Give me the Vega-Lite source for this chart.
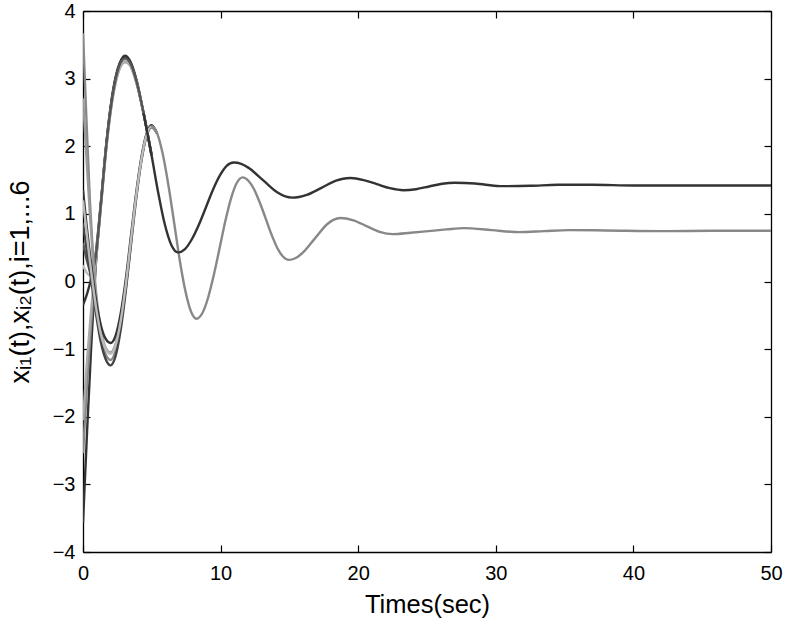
{
  "$schema": "https://vega.github.io/schema/vega-lite/v6.json",
  "width": 688,
  "height": 541,
  "autosize": {"type": "none"},
  "padding": {"left": 83, "top": 11, "right": 15, "bottom": 68},
  "background": "white",
  "config": {
    "view": {"stroke": null},
    "font": "Liberation Sans",
    "axis": {
      "domainColor": "#000", "domainWidth": 1.3,
      "tickColor": "#000", "tickWidth": 1.2, "tickSize": -7,
      "grid": false,
      "labelFont": "Liberation Sans", "labelFontSize": 20, "labelColor": "#000",
      "titleFont": "Liberation Sans", "titleFontSize": 24, "titleFontWeight": "normal", "titleColor": "#000",
      "labelFlush": false
    }
  },
  "data": {"values": [
    {"s":"A1","t":0,"v":-3.57},{"s":"A1","t":0.3,"v":-2.2},{"s":"A1","t":0.6,"v":-0.95},{"s":"A1","t":0.9,"v":0.15},{"s":"A1","t":1.3,"v":1.15},{"s":"A1","t":1.7,"v":2.05},{"s":"A1","t":2.1,"v":2.72},{"s":"A1","t":2.5,"v":3.13},{"s":"A1","t":2.8,"v":3.29},{"s":"A1","t":3.05,"v":3.34},{"s":"A1","t":3.4,"v":3.27},{"s":"A1","t":3.9,"v":2.97},{"s":"A1","t":4.4,"v":2.49},{"s":"A1","t":4.98,"v":1.87},
    {"s":"A2","t":0,"v":-2.54},{"s":"A2","t":0.3,"v":-1.5},{"s":"A2","t":0.6,"v":-0.6},{"s":"A2","t":0.9,"v":0.2},{"s":"A2","t":1.3,"v":1.12},{"s":"A2","t":1.7,"v":2.0},{"s":"A2","t":2.1,"v":2.66},{"s":"A2","t":2.5,"v":3.07},{"s":"A2","t":2.8,"v":3.22},{"s":"A2","t":3.05,"v":3.26},{"s":"A2","t":3.4,"v":3.21},{"s":"A2","t":3.9,"v":2.93},{"s":"A2","t":4.4,"v":2.49},{"s":"A2","t":4.98,"v":1.87},
    {"s":"A3","t":0,"v":-2.05},{"s":"A3","t":0.3,"v":-1.15},{"s":"A3","t":0.6,"v":-0.4},{"s":"A3","t":0.9,"v":0.25},{"s":"A3","t":1.3,"v":1.1},{"s":"A3","t":1.7,"v":1.97},{"s":"A3","t":2.1,"v":2.63},{"s":"A3","t":2.5,"v":3.04},{"s":"A3","t":2.8,"v":3.2},{"s":"A3","t":3.05,"v":3.24},{"s":"A3","t":3.4,"v":3.2},{"s":"A3","t":3.9,"v":2.92},{"s":"A3","t":4.4,"v":2.49},{"s":"A3","t":4.98,"v":1.87},
    {"s":"A4","t":0,"v":-0.35},{"s":"A4","t":0.3,"v":-0.18},{"s":"A4","t":0.6,"v":0.05},{"s":"A4","t":0.9,"v":0.38},{"s":"A4","t":1.3,"v":1.17},{"s":"A4","t":1.7,"v":2.04},{"s":"A4","t":2.1,"v":2.7},{"s":"A4","t":2.5,"v":3.11},{"s":"A4","t":2.8,"v":3.27},{"s":"A4","t":3.05,"v":3.31},{"s":"A4","t":3.4,"v":3.25},{"s":"A4","t":3.9,"v":2.95},{"s":"A4","t":4.4,"v":2.49},{"s":"A4","t":4.98,"v":1.87},
    {"s":"A5","t":0,"v":0.24},{"s":"A5","t":0.3,"v":0.12},{"s":"A5","t":0.6,"v":0.08},{"s":"A5","t":0.9,"v":0.32},{"s":"A5","t":1.3,"v":1.13},{"s":"A5","t":1.7,"v":2.0},{"s":"A5","t":2.1,"v":2.66},{"s":"A5","t":2.5,"v":3.08},{"s":"A5","t":2.8,"v":3.24},{"s":"A5","t":3.05,"v":3.28},{"s":"A5","t":3.4,"v":3.22},{"s":"A5","t":3.9,"v":2.94},{"s":"A5","t":4.4,"v":2.49},{"s":"A5","t":4.98,"v":1.87},
    {"s":"A6","t":0,"v":0.57},{"s":"A6","t":0.3,"v":0.3},{"s":"A6","t":0.6,"v":0.12},{"s":"A6","t":0.9,"v":0.33},{"s":"A6","t":1.3,"v":1.14},{"s":"A6","t":1.7,"v":2.02},{"s":"A6","t":2.1,"v":2.68},{"s":"A6","t":2.5,"v":3.1},{"s":"A6","t":2.8,"v":3.26},{"s":"A6","t":3.05,"v":3.3},{"s":"A6","t":3.4,"v":3.24},{"s":"A6","t":3.9,"v":2.95},{"s":"A6","t":4.4,"v":2.49},{"s":"A6","t":4.98,"v":1.87},
    {"s":"B1","t":0,"v":3.67},{"s":"B1","t":0.25,"v":2.4},{"s":"B1","t":0.5,"v":1.2},{"s":"B1","t":0.75,"v":0.3},{"s":"B1","t":1.0,"v":-0.35},{"s":"B1","t":1.3,"v":-0.8},{"s":"B1","t":1.65,"v":-1.08},{"s":"B1","t":2.0,"v":-1.16},{"s":"B1","t":2.37,"v":-1.02},{"s":"B1","t":2.75,"v":-0.64},{"s":"B1","t":3.12,"v":-0.08},{"s":"B1","t":3.49,"v":0.58},{"s":"B1","t":3.86,"v":1.24},{"s":"B1","t":4.24,"v":1.79},{"s":"B1","t":4.61,"v":2.15},{"s":"B1","t":4.98,"v":2.29},{"s":"B1","t":5.39,"v":2.19},
    {"s":"B2","t":0,"v":2.71},{"s":"B2","t":0.25,"v":1.85},{"s":"B2","t":0.5,"v":1.0},{"s":"B2","t":0.75,"v":0.3},{"s":"B2","t":1.0,"v":-0.25},{"s":"B2","t":1.3,"v":-0.7},{"s":"B2","t":1.65,"v":-0.98},{"s":"B2","t":2.0,"v":-1.05},{"s":"B2","t":2.37,"v":-0.92},{"s":"B2","t":2.75,"v":-0.56},{"s":"B2","t":3.12,"v":-0.02},{"s":"B2","t":3.49,"v":0.625},{"s":"B2","t":3.86,"v":1.27},{"s":"B2","t":4.24,"v":1.81},{"s":"B2","t":4.61,"v":2.17},{"s":"B2","t":4.98,"v":2.3},{"s":"B2","t":5.39,"v":2.19},
    {"s":"B3","t":0,"v":1.35},{"s":"B3","t":0.25,"v":0.85},{"s":"B3","t":0.5,"v":0.4},{"s":"B3","t":0.75,"v":0.0},{"s":"B3","t":1.0,"v":-0.35},{"s":"B3","t":1.3,"v":-0.65},{"s":"B3","t":1.65,"v":-0.85},{"s":"B3","t":2.0,"v":-0.91},{"s":"B3","t":2.37,"v":-0.8},{"s":"B3","t":2.75,"v":-0.46},{"s":"B3","t":3.12,"v":0.05},{"s":"B3","t":3.49,"v":0.68},{"s":"B3","t":3.86,"v":1.3},{"s":"B3","t":4.24,"v":1.83},{"s":"B3","t":4.61,"v":2.18},{"s":"B3","t":4.98,"v":2.31},{"s":"B3","t":5.39,"v":2.19},
    {"s":"B4","t":0,"v":0.86},{"s":"B4","t":0.25,"v":0.5},{"s":"B4","t":0.5,"v":0.15},{"s":"B4","t":0.75,"v":-0.2},{"s":"B4","t":1.0,"v":-0.55},{"s":"B4","t":1.3,"v":-0.9},{"s":"B4","t":1.65,"v":-1.15},{"s":"B4","t":2.0,"v":-1.24},{"s":"B4","t":2.37,"v":-1.1},{"s":"B4","t":2.75,"v":-0.7},{"s":"B4","t":3.12,"v":-0.12},{"s":"B4","t":3.49,"v":0.55},{"s":"B4","t":3.86,"v":1.22},{"s":"B4","t":4.24,"v":1.78},{"s":"B4","t":4.61,"v":2.15},{"s":"B4","t":4.98,"v":2.28},{"s":"B4","t":5.39,"v":2.19},
    {"s":"B5","t":0,"v":1.2},{"s":"B5","t":0.25,"v":0.75},{"s":"B5","t":0.5,"v":0.3},{"s":"B5","t":0.75,"v":-0.1},{"s":"B5","t":1.0,"v":-0.45},{"s":"B5","t":1.3,"v":-0.78},{"s":"B5","t":1.65,"v":-1.0},{"s":"B5","t":2.0,"v":-1.07},{"s":"B5","t":2.37,"v":-0.94},{"s":"B5","t":2.75,"v":-0.57},{"s":"B5","t":3.12,"v":-0.03},{"s":"B5","t":3.49,"v":0.62},{"s":"B5","t":3.86,"v":1.26},{"s":"B5","t":4.24,"v":1.8},{"s":"B5","t":4.61,"v":2.16},{"s":"B5","t":4.98,"v":2.29},{"s":"B5","t":5.39,"v":2.19},
    {"s":"TB","t":4.98,"v":2.3},{"s":"TB","t":5.39,"v":2.19},{"s":"TB","t":5.8,"v":1.88},{"s":"TB","t":6.21,"v":1.42},{"s":"TB","t":6.62,"v":0.875},{"s":"TB","t":7.02,"v":0.33},{"s":"TB","t":7.43,"v":-0.13},{"s":"TB","t":7.84,"v":-0.44},{"s":"TB","t":8.25,"v":-0.55},{"s":"TB","t":8.67,"v":-0.47},{"s":"TB","t":9.09,"v":-0.24},{"s":"TB","t":9.51,"v":0.1},{"s":"TB","t":9.93,"v":0.495},{"s":"TB","t":10.34,"v":0.89},{"s":"TB","t":10.76,"v":1.23},{"s":"TB","t":11.18,"v":1.46},{"s":"TB","t":11.6,"v":1.54},{"s":"TB","t":12.02,"v":1.49},{"s":"TB","t":12.44,"v":1.36},{"s":"TB","t":12.86,"v":1.16},{"s":"TB","t":13.28,"v":0.93},{"s":"TB","t":13.69,"v":0.7},{"s":"TB","t":14.11,"v":0.5},{"s":"TB","t":14.53,"v":0.37},{"s":"TB","t":14.95,"v":0.32},{"s":"TB","t":15.42,"v":0.344},{"s":"TB","t":15.89,"v":0.41},{"s":"TB","t":16.83,"v":0.63},{"s":"TB","t":17.76,"v":0.85},{"s":"TB","t":18.23,"v":0.916},{"s":"TB","t":18.7,"v":0.94},{"s":"TB","t":19.65,"v":0.905},{"s":"TB","t":20.6,"v":0.82},{"s":"TB","t":21.55,"v":0.735},{"s":"TB","t":22.5,"v":0.7},{"s":"TB","t":23.8,"v":0.72},{"s":"TB","t":25.1,"v":0.745},{"s":"TB","t":26.4,"v":0.77},{"s":"TB","t":27.7,"v":0.79},{"s":"TB","t":29.7,"v":0.76},{"s":"TB","t":31.7,"v":0.73},{"s":"TB","t":33.5,"v":0.745},{"s":"TB","t":35.3,"v":0.76},{"s":"TB","t":38,"v":0.755},{"s":"TB","t":42,"v":0.745},{"s":"TB","t":46,"v":0.75},{"s":"TB","t":50,"v":0.75},
    {"s":"TA","t":4.4,"v":2.49},{"s":"TA","t":4.98,"v":1.87},{"s":"TA","t":5.46,"v":1.32},{"s":"TA","t":5.94,"v":0.85},{"s":"TA","t":6.42,"v":0.54},{"s":"TA","t":6.9,"v":0.43},{"s":"TA","t":7.41,"v":0.48},{"s":"TA","t":7.91,"v":0.625},{"s":"TA","t":8.42,"v":0.84},{"s":"TA","t":8.93,"v":1.095},{"s":"TA","t":9.43,"v":1.35},{"s":"TA","t":9.94,"v":1.565},{"s":"TA","t":10.44,"v":1.71},{"s":"TA","t":10.95,"v":1.76},{"s":"TA","t":11.5,"v":1.74},{"s":"TA","t":12.01,"v":1.684},{"s":"TA","t":13.08,"v":1.5},{"s":"TA","t":14.14,"v":1.316},{"s":"TA","t":14.7,"v":1.258},{"s":"TA","t":15.2,"v":1.24},{"s":"TA","t":15.7,"v":1.25},{"s":"TA","t":16.26,"v":1.28},{"s":"TA","t":17.33,"v":1.385},{"s":"TA","t":18.39,"v":1.49},{"s":"TA","t":18.9,"v":1.52},{"s":"TA","t":19.45,"v":1.53},{"s":"TA","t":20.4,"v":1.5},{"s":"TA","t":21.35,"v":1.44},{"s":"TA","t":22.3,"v":1.38},{"s":"TA","t":23.3,"v":1.35},{"s":"TA","t":24.2,"v":1.365},{"s":"TA","t":25.15,"v":1.405},{"s":"TA","t":26.1,"v":1.445},{"s":"TA","t":27.0,"v":1.46},{"s":"TA","t":28.5,"v":1.45},{"s":"TA","t":30.3,"v":1.41},{"s":"TA","t":32.5,"v":1.415},{"s":"TA","t":34.5,"v":1.43},{"s":"TA","t":37,"v":1.43},{"s":"TA","t":40,"v":1.42},{"s":"TA","t":45,"v":1.42},{"s":"TA","t":50,"v":1.42}
  ]},
  "layer": [
    {
      "mark": {"type": "line", "interpolate": "monotone", "strokeWidth": 2.4, "clip": true},
      "encoding": {
        "x": {"field": "t", "type": "quantitative", "scale": {"domain": [0, 50], "nice": false, "zero": false},
              "axis": {"values": [0, 10, 20, 30, 40, 50], "labelPadding": 18, "title": "Times(sec)", "titlePadding": 9, "titleFontSize": 25.5}},
        "y": {"field": "v", "type": "quantitative", "scale": {"domain": [-4, 4], "nice": false, "zero": false},
              "axis": {"values": [-4, -3, -2, -1, 0, 1, 2, 3, 4], "labelPadding": 15, "title": "xᵢ₁(t),xᵢ₂(t),i=1,...6", "titlePadding": 18, "titleFontSize": 27}},
        "color": {"field": "s", "type": "nominal", "legend": null,
                  "scale": {"domain": ["A1","A2","A3","A4","A5","A6","B1","B2","B3","B4","B5","TB","TA"],
                            "range": ["#333333","#888888","#aaaaaa","#333333","#bbbbbb","#555555","#888888","#999999","#333333","#444444","#bbbbbb","#888888","#333333"]}}
      }
    },
    {
      "mark": {"type": "line", "opacity": 0},
      "encoding": {
        "x": {"field": "t", "type": "quantitative", "scale": {"domain": [0, 50], "nice": false, "zero": false},
              "axis": {"orient": "top", "values": [0, 10, 20, 30, 40, 50], "labels": false, "title": null}},
        "y": {"field": "v", "type": "quantitative", "scale": {"domain": [-4, 4], "nice": false, "zero": false},
              "axis": {"orient": "right", "values": [-4, -3, -2, -1, 0, 1, 2, 3, 4], "labels": false, "title": null}}
      }
    }
  ],
  "resolve": {"axis": {"x": "independent", "y": "independent"}}
}
